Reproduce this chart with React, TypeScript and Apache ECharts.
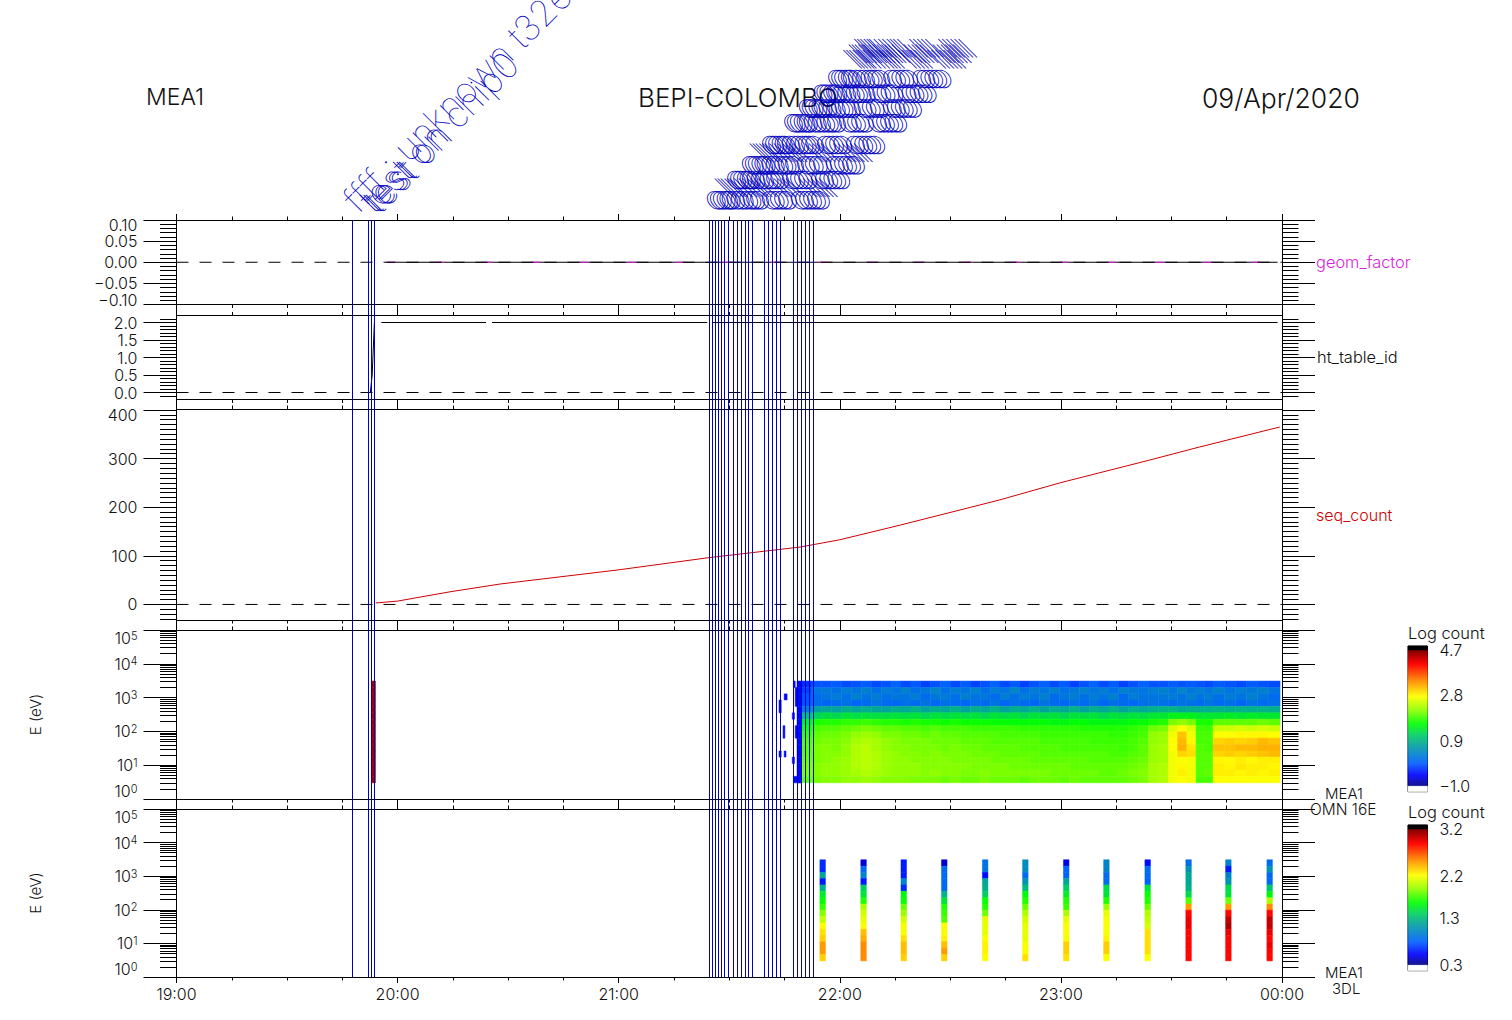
import React, { useEffect, useRef } from "react";
import * as echarts from "echarts";

const T_MIN = 1140;
const T_MAX = 1440;
const FONT = "Inter";
const WEIGHT = 300;
const INK = "#111";
const BLUE = "#0000c0";

const GEOM_TICKS = [-0.1, -0.05, 0, 0.05, 0.1];
const GEOM_MINOR = [-0.09, -0.08, -0.07, -0.06, -0.04, -0.03, -0.02, -0.01, 0.01, 0.02, 0.03, 0.04, 0.06, 0.07, 0.08, 0.09];
const HT_TICKS = [0, 0.5, 1, 1.5, 2];
const HT_MINOR = [-0.1, 0.1, 0.2, 0.3, 0.4, 0.6, 0.7, 0.8, 0.9, 1.1, 1.2, 1.3, 1.4, 1.6, 1.7, 1.8, 1.9, 2.1];
const SEQ_TICKS = [0, 100, 200, 300, 400];
const SEQ_MINOR = [-30, -20, -10, 10, 20, 30, 40, 50, 60, 70, 80, 90, 110, 120, 130, 140, 150, 160, 170, 180, 190, 210, 220, 230, 240, 250, 260, 270, 280, 290, 310, 320, 330, 340, 350, 360, 370, 380, 390];
const LOG_TICKS = [0, 1, 2, 3, 4, 5];
const LOG_MINOR = [0, 1, 2, 3, 4].flatMap((d) => [2, 3, 4, 5, 6, 7, 8, 9].map((k) => d + Math.log10(k)));
const HOUR_LABELS: Record<number, string> = { 1140: "19:00", 1200: "20:00", 1260: "21:00", 1320: "22:00", 1380: "23:00", 1440: "00:00" };

const GEOM_TIMES = [1197, 1438.8];
const GEOM_VALUES = [0, 0];
const HT_TIMES = [1192.6, 1193.1, 1193.7, 1194.2, 1195.6, 1224, 1224.5, 1225.6, 1284, 1284.5, 1285.3, 1438.8];
const HT_VALUES = [0, 0.5, 2, null, 2, 2, null, 2, 2, null, 2, 2];
const SEQ_TIMES = [1194.1, 1200.1, 1214.2, 1227.8, 1259.8, 1284.2, 1309.2, 1320, 1336.3, 1363.4, 1379.7, 1404.1, 1417.7, 1439.4];
const SEQ_VALUES = [3, 7, 26, 42, 71, 96, 118, 133, 163, 215, 250, 297, 324, 365];

const EVENT_TIMES = [1187.7, 1192.0, 1193.0, 1193.7, 1284.6, 1285.4, 1286.2, 1287.2, 1288.0, 1288.6, 1289.9, 1291.1, 1292.2, 1293.4, 1294.3, 1295.2, 1296.3, 1299.5, 1300.6, 1301.7, 1302.8, 1303.9, 1307.4, 1308.5, 1309.6, 1310.7, 1311.8, 1312.9];
const EVENT_LABELS_LEFT = ["ffff : unknown t32e", "test on chip0", "test on", "test"];
const EVENT_LABEL_MID = "oloolo oooo lll";

const ENERGY_LOG_EDGES = [3.49, 3.30, 3.11, 2.93, 2.74, 2.55, 2.36, 2.17, 1.99, 1.80, 1.61, 1.42, 1.24, 1.05, 0.86, 0.67, 0.48];

// column groups of the first spectrogram: [start minute, minutes per column, number of columns]
const SPEC_GROUPS = [[1309.74, 2.687, 37], [1409.16, 2.507, 3], [1416.68, 2.305, 2], [1421.29, 3.03, 6]];
const SPEC_COLUMNS = [
  [-.3, -.2, -.1, -.1, .3, 1.0, 1.5, 1.7, 1.85, 1.95, 2.0, 2.0, 2.05, 2.1, 2.1, 2.0],
  [-.1, .2, .1, .1, .7, 1.2, 1.7, 1.9, 2.0, 2.05, 2.1, 2.1, 2.1, 2.15, 2.15, 2.1],
  [-.1, .25, .2, .05, .8, 1.3, 1.75, 1.95, 2.05, 2.1, 2.15, 2.15, 2.15, 2.2, 2.2, 2.15],
  [-.05, .15, .3, .1, .75, 1.25, 1.75, 1.95, 2.05, 2.1, 2.1, 2.15, 2.2, 2.2, 2.2, 2.15],
  [-.15, .3, .15, .15, .85, 1.35, 1.8, 2.0, 2.1, 2.15, 2.2, 2.2, 2.25, 2.25, 2.25, 2.2],
  [-.1, .2, .35, .05, .8, 1.3, 1.8, 2.05, 2.2, 2.3, 2.35, 2.35, 2.35, 2.35, 2.3, 2.2],
  [-.05, .35, .2, .1, .85, 1.35, 1.85, 2.1, 2.25, 2.35, 2.4, 2.4, 2.4, 2.4, 2.35, 2.25],
  [-.15, .15, .3, .2, .8, 1.3, 1.8, 2.05, 2.2, 2.3, 2.3, 2.35, 2.35, 2.35, 2.3, 2.2],
  [-.1, .3, .15, .1, .75, 1.3, 1.75, 2.0, 2.1, 2.2, 2.2, 2.25, 2.25, 2.25, 2.25, 2.15],
  [.0, .2, .25, .05, .85, 1.35, 1.75, 2.0, 2.1, 2.15, 2.15, 2.2, 2.2, 2.2, 2.2, 2.15],
  [-.15, .35, .2, .15, .8, 1.3, 1.7, 1.95, 2.05, 2.1, 2.15, 2.15, 2.2, 2.2, 2.2, 2.15],
  [-.05, .15, .3, .1, .9, 1.35, 1.75, 1.95, 2.05, 2.1, 2.1, 2.15, 2.15, 2.2, 2.2, 2.1],
  [-.2, .25, .1, .2, .75, 1.25, 1.7, 1.9, 2.0, 2.1, 2.1, 2.1, 2.15, 2.15, 2.15, 2.1],
  [-.1, .4, .25, .05, .85, 1.35, 1.7, 1.95, 2.05, 2.05, 2.1, 2.15, 2.15, 2.15, 2.2, 2.1],
  [.0, .15, .3, .15, .8, 1.3, 1.65, 1.9, 2.0, 2.05, 2.05, 2.1, 2.15, 2.15, 2.15, 2.05],
  [-.15, .3, .15, .1, .9, 1.35, 1.7, 1.9, 2.0, 2.05, 2.1, 2.1, 2.1, 2.15, 2.15, 2.1],
  [-.05, .2, .35, .05, .75, 1.3, 1.65, 1.9, 1.95, 2.0, 2.05, 2.1, 2.1, 2.15, 2.1, 2.05],
  [-.2, .35, .2, .15, .85, 1.35, 1.65, 1.85, 1.95, 2.0, 2.05, 2.05, 2.1, 2.1, 2.1, 2.05],
  [-.1, .15, .25, .1, .8, 1.25, 1.65, 1.85, 1.95, 2.0, 2.0, 2.05, 2.1, 2.1, 2.15, 2.1],
  [.0, .3, .1, .2, .9, 1.35, 1.6, 1.85, 1.95, 1.95, 2.0, 2.05, 2.05, 2.1, 2.1, 2.05],
  [-.15, .2, .3, .05, .75, 1.3, 1.6, 1.85, 1.9, 1.95, 2.0, 2.0, 2.05, 2.1, 2.1, 2.05],
  [-.05, .4, .15, .15, .85, 1.35, 1.6, 1.85, 1.9, 1.95, 2.0, 2.0, 2.05, 2.05, 2.1, 2.05],
  [-.2, .15, .3, .1, .8, 1.25, 1.6, 1.8, 1.9, 1.95, 1.95, 2.0, 2.05, 2.05, 2.1, 2.0],
  [-.1, .3, .2, .05, .9, 1.35, 1.6, 1.8, 1.9, 1.95, 1.95, 2.0, 2.0, 2.05, 2.1, 2.05],
  [.0, .2, .35, .2, .75, 1.3, 1.6, 1.8, 1.85, 1.9, 1.95, 1.95, 2.0, 2.05, 2.1, 2.05],
  [-.15, .35, .1, .1, .85, 1.35, 1.55, 1.8, 1.85, 1.9, 1.95, 1.95, 2.0, 2.05, 2.05, 2.05],
  [-.05, .15, .25, .05, .8, 1.25, 1.55, 1.8, 1.85, 1.9, 1.9, 1.95, 2.0, 2.05, 2.05, 2.0],
  [-.2, .25, .3, .15, .9, 1.35, 1.6, 1.8, 1.85, 1.9, 1.9, 1.95, 2.0, 2.0, 2.05, 2.05],
  [-.1, .35, .15, .1, .75, 1.3, 1.6, 1.75, 1.85, 1.9, 1.9, 1.95, 2.0, 2.0, 2.05, 2.0],
  [.0, .2, .3, .2, .85, 1.35, 1.55, 1.75, 1.85, 1.85, 1.9, 1.95, 1.95, 2.0, 2.05, 2.0],
  [-.15, .3, .2, .05, .8, 1.25, 1.55, 1.75, 1.85, 1.85, 1.9, 1.95, 1.95, 2.0, 2.0, 2.0],
  [-.05, .15, .35, .15, .9, 1.35, 1.55, 1.75, 1.8, 1.85, 1.9, 1.9, 1.95, 2.0, 2.0, 2.0],
  [-.2, .35, .1, .1, .75, 1.3, 1.55, 1.75, 1.8, 1.85, 1.85, 1.9, 1.95, 2.0, 2.05, 2.0],
  [-.1, .25, .3, .05, .85, 1.35, 1.6, 1.8, 1.85, 1.9, 1.9, 1.95, 2.0, 2.05, 2.1, 2.05],
  [.0, .2, .2, .15, .8, 1.3, 1.6, 1.85, 1.9, 1.95, 2.0, 2.0, 2.05, 2.1, 2.15, 2.1],
  [-.1, .3, .2, .2, .85, 1.4, 1.7, 2.05, 2.2, 2.2, 2.25, 2.25, 2.25, 2.3, 2.3, 2.3],
  [-.1, .35, .25, .15, .9, 1.4, 1.75, 2.1, 2.25, 2.25, 2.3, 2.3, 2.3, 2.35, 2.35, 2.35],
  [-.05, .2, .3, .1, .9, 1.5, 2.1, 2.6, 2.7, 2.75, 2.75, 2.7, 2.7, 2.7, 2.7, 2.7],
  [-.1, .4, .2, .2, .8, 1.5, 2.2, 2.75, 3.1, 3.15, 3.2, 3.0, 2.75, 2.8, 2.85, 2.75],
  [-.05, .25, .35, .15, .85, 1.5, 2.1, 2.6, 2.7, 2.8, 2.9, 2.95, 2.7, 2.7, 2.7, 2.7],
  [-.1, .3, .2, .1, .85, 1.4, 1.7, 1.85, 1.9, 1.9, 1.95, 1.95, 1.95, 1.95, 1.95, 1.9],
  [-.15, .2, .3, .2, .85, 1.4, 1.7, 1.85, 1.9, 1.9, 1.9, 1.95, 1.95, 1.95, 2.0, 1.9],
  [-.05, .35, .15, .1, .9, 1.4, 2.0, 2.5, 2.75, 3.0, 3.1, 3.0, 2.8, 2.85, 2.85, 2.75],
  [-.1, .2, .3, .15, .85, 1.45, 2.0, 2.5, 2.75, 3.05, 3.1, 3.05, 2.8, 2.8, 2.85, 2.75],
  [-.15, .3, .2, .05, .9, 1.4, 2.0, 2.55, 2.8, 3.0, 3.15, 3.0, 2.85, 2.9, 2.8, 2.75],
  [-.05, .25, .35, .2, .85, 1.45, 2.0, 2.5, 2.8, 3.05, 3.15, 3.05, 2.8, 2.85, 2.85, 2.75],
  [-.1, .35, .2, .1, .9, 1.4, 2.05, 2.55, 2.8, 3.15, 3.2, 3.1, 2.85, 2.85, 2.8, 2.75],
  [-.15, .2, .1, .15, .85, 1.4, 2.0, 2.5, 2.75, 3.1, 3.2, 3.15, 2.85, 2.8, 2.85, 2.75],
];
// sparse early cells: [startTime, endTime, firstRow, lastRow, logCount]
const SPEC_SPARSE = [
  [1192.9, 1194.0, 0, 15, 4.55],
  [1303.5, 1304.1, 3, 4, -0.5], [1304.9, 1305.7, 2, 2, -0.5], [1304.6, 1305.1, 7, 8, -0.5],
  [1303.5, 1304.1, 11, 11, -0.5], [1304.9, 1305.4, 11, 11, -0.5], [1307.1, 1307.7, 5, 5, -0.5],
  [1307.1, 1307.7, 12, 12, -0.5], [1307.4, 1307.9, 0, 0, -0.5], [1307.4, 1309.7, 15, 15, -0.5],
  [1307.9, 1308.4, 1, 3, -0.5], [1307.9, 1308.4, 7, 8, -0.5], [1308.4, 1309.75, 0, 15, -0.5],
];

const OMNI_TIMES = [1314.6, 1325.7, 1336.6, 1347.6, 1358.7, 1369.6, 1380.7, 1391.6, 1402.8, 1413.9, 1424.7, 1435.9];
const OMNI_COLUMNS = [
  [.65, .65, 1.2, .6, 1.25, 1.55, 1.65, 1.75, 1.9, 2.05, 2.2, 2.3, 2.35, 2.5, 2.5, 2.35],
  [.45, .85, 1.0, .6, 1.4, 1.5, 1.7, 2.0, 2.1, 2.15, 2.2, 2.4, 2.45, 2.55, 2.55, 2.55],
  [.6, .6, .6, 1.0, .65, 1.6, 1.65, 1.85, 1.95, 2.1, 2.2, 2.2, 2.3, 2.4, 2.4, 2.35],
  [.45, .85, .85, .85, .85, 1.25, 1.5, 1.7, 1.75, 1.8, 2.2, 2.2, 2.25, 2.4, 2.5, 2.35],
  [.9, .9, .55, 1.2, 1.25, 1.4, 1.65, 1.7, 1.85, 2.15, 2.15, 2.15, 2.2, 2.25, 2.25, 2.2],
  [1.05, 1.05, .85, 1.1, 1.3, 1.6, 1.7, 1.85, 2.0, 2.1, 2.15, 2.15, 2.15, 2.2, 2.2, 2.3],
  [.5, .8, .8, 1.2, 1.4, 1.55, 1.7, 1.75, 2.0, 2.15, 2.2, 2.2, 2.2, 2.35, 2.35, 2.3],
  [1.0, 1.0, .85, .85, 1.45, 1.5, 1.7, 1.95, 2.15, 2.2, 2.2, 2.2, 2.25, 2.35, 2.35, 2.2],
  [.55, .85, .85, .8, 1.5, 1.65, 1.7, 1.85, 2.0, 2.05, 2.1, 2.3, 2.3, 2.3, 2.3, 2.2],
  [.85, 1.1, 1.2, 1.2, 1.25, 1.45, 1.8, 2.5, 2.9, 2.95, 2.95, 2.9, 2.9, 2.9, 2.9, 2.9],
  [1.0, .6, 1.0, 1.1, 1.45, 1.5, 1.85, 2.5, 2.9, 3.05, 3.1, 2.95, 2.9, 2.9, 2.9, 2.9],
  [.85, 1.1, .85, .85, 1.35, 1.6, 2.0, 2.55, 2.9, 3.05, 3.05, 2.95, 2.9, 2.95, 2.9, 2.9],
];
const OMNI_WIDTH = 1.5;

const COLOR_POS = [0, .08, .17, .30, .38, .46, .56, .66, .77, .90, 1];
const COLOR_RGB = [[0, 0, 128], [0, 0, 255], [0, 96, 255], [0, 160, 160], [0, 208, 96], [0, 255, 0], [144, 255, 0], [255, 255, 0], [255, 144, 0], [255, 0, 0], [128, 0, 0]];
const SCALE1 = [-1.0, 0.9, 2.8, 4.7];
const SCALE2 = [0.3, 1.3, 2.2, 3.2];

function colorAt(v: number, lo: number, hi: number) {
  const f = (v - lo) / (hi - lo);
  if (f < 0) return "#ffffff";
  if (f > 1) return "#000000";
  let i = 0;
  while (i < COLOR_POS.length - 2 && f > COLOR_POS[i + 1]) i++;
  const t = (f - COLOR_POS[i]) / (COLOR_POS[i + 1] - COLOR_POS[i]);
  const c = COLOR_RGB[i].map((a, k) => Math.round(a + (COLOR_RGB[i + 1][k] - a) * t));
  return `rgb(${c[0]},${c[1]},${c[2]})`;
}

// panel layout: [top, bottom]
const PANELS = [[220, 304.5], [315.5, 399.5], [409, 620], [630, 799], [809, 977]];
const LEFT = 176.5;
const WIDTH = 1105.5;
const labelFont = { color: INK, fontFamily: FONT, fontWeight: WEIGHT, fontSize: 16 };

function xAxes(grid: number, last: boolean) {
  const base = {
    gridIndex: grid, type: "value", min: T_MIN, max: T_MAX, interval: 60,
    axisLine: { show: true, onZero: false, lineStyle: { color: "#000", width: 1 } },
    axisTick: { show: true, length: 6, lineStyle: { color: "#000" } },
    minorTick: { show: true, splitNumber: 4, length: 3.5, lineStyle: { color: "#000" } },
    splitLine: { show: false }, minorSplitLine: { show: false },
  };
  return [
    { ...base, position: "bottom", axisLabel: last ? { show: true, margin: 9, ...labelFont, showMinLabel: true, showMaxLabel: true, formatter: (v: number) => HOUR_LABELS[v] || "" } : { show: false } },
    { ...base, position: "top", axisLabel: { show: false } },
  ];
}

function yAxes(grid: number, range: number[], majors: number[], minors: number[], label: any, name?: string) {
  const base = { gridIndex: grid, type: "value", min: range[0], max: range[1], axisLine: { show: false, onZero: false }, splitLine: { show: false }, minorTick: { show: false } };
  const major = { show: true, length: 33, customValues: majors, lineStyle: { color: "#000" } };
  const minor = { show: true, length: 16.5, customValues: minors, lineStyle: { color: "#000" } };
  const nameCfg = name ? { name, nameLocation: "middle", nameGap: 134, nameRotate: 90, nameTextStyle: { color: INK, fontFamily: FONT, fontWeight: WEIGHT, fontSize: 15 } } : {};
  return [
    { ...base, ...nameCfg, position: "left", axisTick: major, axisLabel: { show: true, customValues: majors, margin: 39, showMinLabel: true, showMaxLabel: true, ...labelFont, ...label } },
    { ...base, position: "left", axisTick: minor, axisLabel: { show: false } },
    { ...base, position: "right", axisTick: major, axisLabel: { show: false } },
    { ...base, position: "right", axisTick: minor, axisLabel: { show: false } },
  ];
}

function specData(columns: number[][], timeOf: (i: number) => number[]) {
  const out: number[][] = [];
  columns.forEach((col, i) => {
    const [t0, t1] = timeOf(i);
    col.forEach((v, r) => out.push([t0, t1, ENERGY_LOG_EDGES[r], ENERGY_LOG_EDGES[r + 1], v]));
  });
  return out;
}

function cellRender(lo: number, hi: number) {
  return (_p: any, api: any) => {
    const a = api.coord([api.value(0), api.value(2)]);
    const b = api.coord([api.value(1), api.value(3)]);
    const color = colorAt(api.value(4), lo, hi);
    return { type: "rect", shape: { x: a[0], y: a[1], width: b[0] - a[0], height: b[1] - a[1] }, style: { fill: color, stroke: color, lineWidth: 0.5 } };
  };
}

function buildOption() {
  const zero = (x: number, y: number) => ({
    type: "line", xAxisIndex: x, yAxisIndex: y, data: [[T_MIN, 0], [T_MAX, 0]], showSymbol: false, silent: true,
    lineStyle: { color: "#000", width: 1, type: [12, 11] },
  });
  const line = (x: number, y: number, times: number[], vals: (number | null)[], color: string, extra: any = {}) => ({
    type: "line", xAxisIndex: x, yAxisIndex: y, data: times.map((t, i) => [t, vals[i]]), showSymbol: false, silent: true,
    connectNulls: false, lineStyle: { color, width: 1, ...extra },
  });
  const shift = { t: { padding: [10, 0, 0, 0], lineHeight: 12, ...labelFont }, u: { padding: [0, 0, 10, 0], lineHeight: 12, ...labelFont } };
  const logLabel = {
    formatter: (v: number) => `{b|10}{s|${Math.round(v)}}`,
    verticalAlignMaxLabel: "top", verticalAlignMinLabel: "bottom",
    rich: { b: { ...labelFont, lineHeight: 16, verticalAlign: "bottom" }, s: { ...labelFont, fontSize: 11, lineHeight: 8, verticalAlign: "top" } },
  };

  const sparseCells = SPEC_SPARSE.flatMap(([t0, t1, r0, r1, v]) => {
    const rows: number[][] = [];
    for (let r = r0; r <= r1; r++) rows.push([t0, t1, ENERGY_LOG_EDGES[r], ENERGY_LOG_EDGES[r + 1], v]);
    return rows;
  });
  const specEdges = SPEC_GROUPS.flatMap(([start, step, n]) => Array.from({ length: n }, (_, i) => [start + i * step, start + (i + 1) * step]));
  const mainCells = specData(SPEC_COLUMNS, (i) => specEdges[i]);
  const omniCells = specData(OMNI_COLUMNS, (i) => [OMNI_TIMES[i], OMNI_TIMES[i] + OMNI_WIDTH]);

  const barAxis = (grid: number, scale: number[], lo: number, hi: number) => ({
    gridIndex: grid, type: "value", min: lo, max: hi, position: "right",
    axisLine: { show: false, onZero: false }, axisTick: { show: false }, splitLine: { show: false },
    axisLabel: { show: true, customValues: scale, margin: 12, showMinLabel: true, showMaxLabel: true, ...labelFont, formatter: (v: number) => v.toFixed(1).replace("-", "\u2212") },
  });
  const barX = (grid: number) => ({ gridIndex: grid, type: "value", min: 0, max: 1, show: false });
  const barLevels = (lo: number, hi: number) => {
    const n = 145;
    return Array.from({ length: n }, (_, i) => [lo + ((hi - lo) * i) / n, lo + ((hi - lo) * (i + 1)) / n]);
  };
  const barSeries = (x: number, y: number, scale: number[], lo: number, hi: number) => ({
    type: "custom", xAxisIndex: x, yAxisIndex: y, silent: true, data: barLevels(lo, hi),
    renderItem: (_p: any, api: any) => {
      const a = api.coord([0, api.value(1)]);
      const b = api.coord([1, api.value(0)]);
      const color = colorAt((api.value(0) + api.value(1)) / 2, scale[0], scale[3]);
      return { type: "rect", shape: { x: a[0], y: a[1], width: b[0] - a[0], height: b[1] - a[1] }, style: { fill: color, stroke: color, lineWidth: 0.4 } };
    },
  });

  const grids = PANELS.map(([t, b]) => ({ left: LEFT, width: WIDTH, top: t, height: b - t }));
  const overlay = { left: LEFT, width: WIDTH, top: 215, height: 767 };

  const s1 = 136 / 5.7;
  const s2 = 136 / 2.9;
  const bar1: [number, number] = [-1 - 5.7 / s1, 4.7 + 4 / s1];
  const bar2: [number, number] = [0.3 - 5.7 / s2, 3.2 + 4 / s2];

  const txt = (text: string, x: number, y: number, fill = INK, fontSize = 15) => ({
    type: "text", x, y, silent: true, style: { text, fill, fontFamily: FONT, fontWeight: WEIGHT, fontSize, verticalAlign: "middle", align: "left" },
  });
  const titleStyle = (fontSize: number) => ({ color: INK, fontFamily: FONT, fontSize, fontWeight: WEIGHT });

  return {
    animation: false,
    backgroundColor: "#fff",
    title: [
      { text: "MEA1", left: 141, top: 80, textStyle: titleStyle(23) },
      { text: "BEPI-COLOMBO", left: 633, top: 79, textStyle: titleStyle(26) },
      { text: "09/Apr/2020", left: 1197, top: 79, textStyle: titleStyle(26.5) },
    ],
    grid: [...grids, overlay,
      { left: 1408, width: 19.5, top: 646, height: 145.7, show: true, borderColor: "#000", borderWidth: 1, backgroundColor: "transparent" },
      { left: 1408, width: 19.5, top: 825, height: 145.7, show: true, borderColor: "#000", borderWidth: 1, backgroundColor: "transparent" },
    ],
    xAxis: [
      ...xAxes(0, false), ...xAxes(1, false), ...xAxes(2, false), ...xAxes(3, false), ...xAxes(4, true),
      { gridIndex: 5, type: "value", min: T_MIN, max: T_MAX, show: false },
      barX(6), barX(7),
    ],
    yAxis: [
      ...yAxes(0, [-0.1, 0.1], GEOM_TICKS, GEOM_MINOR, {
        rich: shift,
        formatter: (v: number) => {
          const s = v.toFixed(2).replace("-", "\u2212");
          return v >= 0.099 ? `{t|${s}}` : v <= -0.099 ? `{u|${s}}` : s;
        },
      }),
      ...yAxes(1, [-0.2, 2.2], HT_TICKS, HT_MINOR, { formatter: (v: number) => v.toFixed(1) }),
      ...yAxes(2, [-32, 402], SEQ_TICKS, SEQ_MINOR, {
        formatter: (v: number) => (v === 400 ? "{t|400}" : String(v)), rich: shift,
      }),
      ...yAxes(3, [0, 5], LOG_TICKS, LOG_MINOR, logLabel, "E (eV)"),
      ...yAxes(4, [0, 5], LOG_TICKS, LOG_MINOR, logLabel, "E (eV)"),
      {
        gridIndex: 5, type: "value", min: 215, max: 982, inverse: true, position: "left",
        axisLine: { show: true, onZero: false, lineStyle: { color: "#000", width: 1 } }, axisTick: { show: false }, axisLabel: { show: false }, splitLine: { show: false },
      },
      {
        gridIndex: 5, type: "value", min: 215, max: 982, inverse: true, position: "right",
        axisLine: { show: true, onZero: false, lineStyle: { color: "#000", width: 1 } }, axisTick: { show: false }, axisLabel: { show: false }, splitLine: { show: false },
      },
      barAxis(6, SCALE1, bar1[0], bar1[1]),
      barAxis(7, SCALE2, bar2[0], bar2[1]),
    ],
    series: [
      line(0, 0, GEOM_TIMES, GEOM_VALUES, "#000"),
      line(0, 0, GEOM_TIMES, GEOM_VALUES, "#d81fd8", { type: [10, 38] }),
      zero(0, 0),
      line(2, 4, HT_TIMES, HT_VALUES, "#000"),
      zero(2, 4),
      line(4, 8, SEQ_TIMES, SEQ_VALUES, "#d00000"),
      zero(4, 8),
      { type: "custom", xAxisIndex: 6, yAxisIndex: 12, silent: true, data: [...sparseCells, ...mainCells], renderItem: cellRender(SCALE1[0], SCALE1[3]) },
      { type: "custom", xAxisIndex: 8, yAxisIndex: 16, silent: true, data: omniCells, renderItem: cellRender(SCALE2[0], SCALE2[3]) },
      {
        type: "custom", xAxisIndex: 10, yAxisIndex: 20, silent: true, z: 10, clip: false,
        data: EVENT_TIMES.map((t) => [t]),
        renderItem: (_p: any, api: any) => {
          const top = api.coord([api.value(0), 220]);
          const bot = api.coord([api.value(0), 977]);
          const x = Math.floor(top[0]) + 0.5;
          return { type: "line", shape: { x1: x, y1: top[1], x2: x, y2: bot[1] }, style: { stroke: BLUE, lineWidth: 1, fill: "none" } };
        },
      },
      {
        type: "custom", xAxisIndex: 10, yAxisIndex: 20, silent: true, z: 11, clip: false,
        data: EVENT_TIMES.map((t, i) => [t, i]),
        renderItem: (_p: any, api: any) => {
          const i = api.value(1);
          const top = api.coord([api.value(0), 220]);
          return {
            type: "text", x: top[0] + 10, y: 218, rotation: Math.PI / 4,
            style: { text: EVENT_LABELS_LEFT[i] ?? EVENT_LABEL_MID, fill: BLUE, fontFamily: "Inter", fontWeight: 100, fontSize: 36, align: "left", verticalAlign: "bottom" },
          };
        },
      },
      barSeries(11, 22, SCALE1, bar1[0], bar1[1]),
      barSeries(12, 23, SCALE2, bar2[0], bar2[1]),
    ],
    graphic: [
      txt("geom_factor", 1316, 262, "#d81fd8", 16.4),
      txt("ht_table_id", 1317, 357, INK, 16.4),
      txt("seq_count", 1316, 515, "#d00000", 16),
      txt("MEA1", 1325, 793.5),
      txt("OMN 16E", 1310, 809.5, INK, 15.5),
      txt("MEA1", 1325, 972.5),
      txt("3DL", 1332, 988.5),
      txt("Log count", 1408, 633, INK, 16.4),
      txt("Log count", 1408, 812, INK, 16.4),
    ],
  };
}

export default function App() {
  const ref = useRef<HTMLDivElement>(null);
  useEffect(() => {
    document.body.style.margin = "0";
    const chart = echarts.init(ref.current!, undefined, { renderer: "svg" });
    chart.setOption(buildOption() as any);
    return () => chart.dispose();
  }, []);
  return <div ref={ref} style={{ position: "absolute", left: 0, top: 0, width: 1512, height: 1020 }} />;
}
